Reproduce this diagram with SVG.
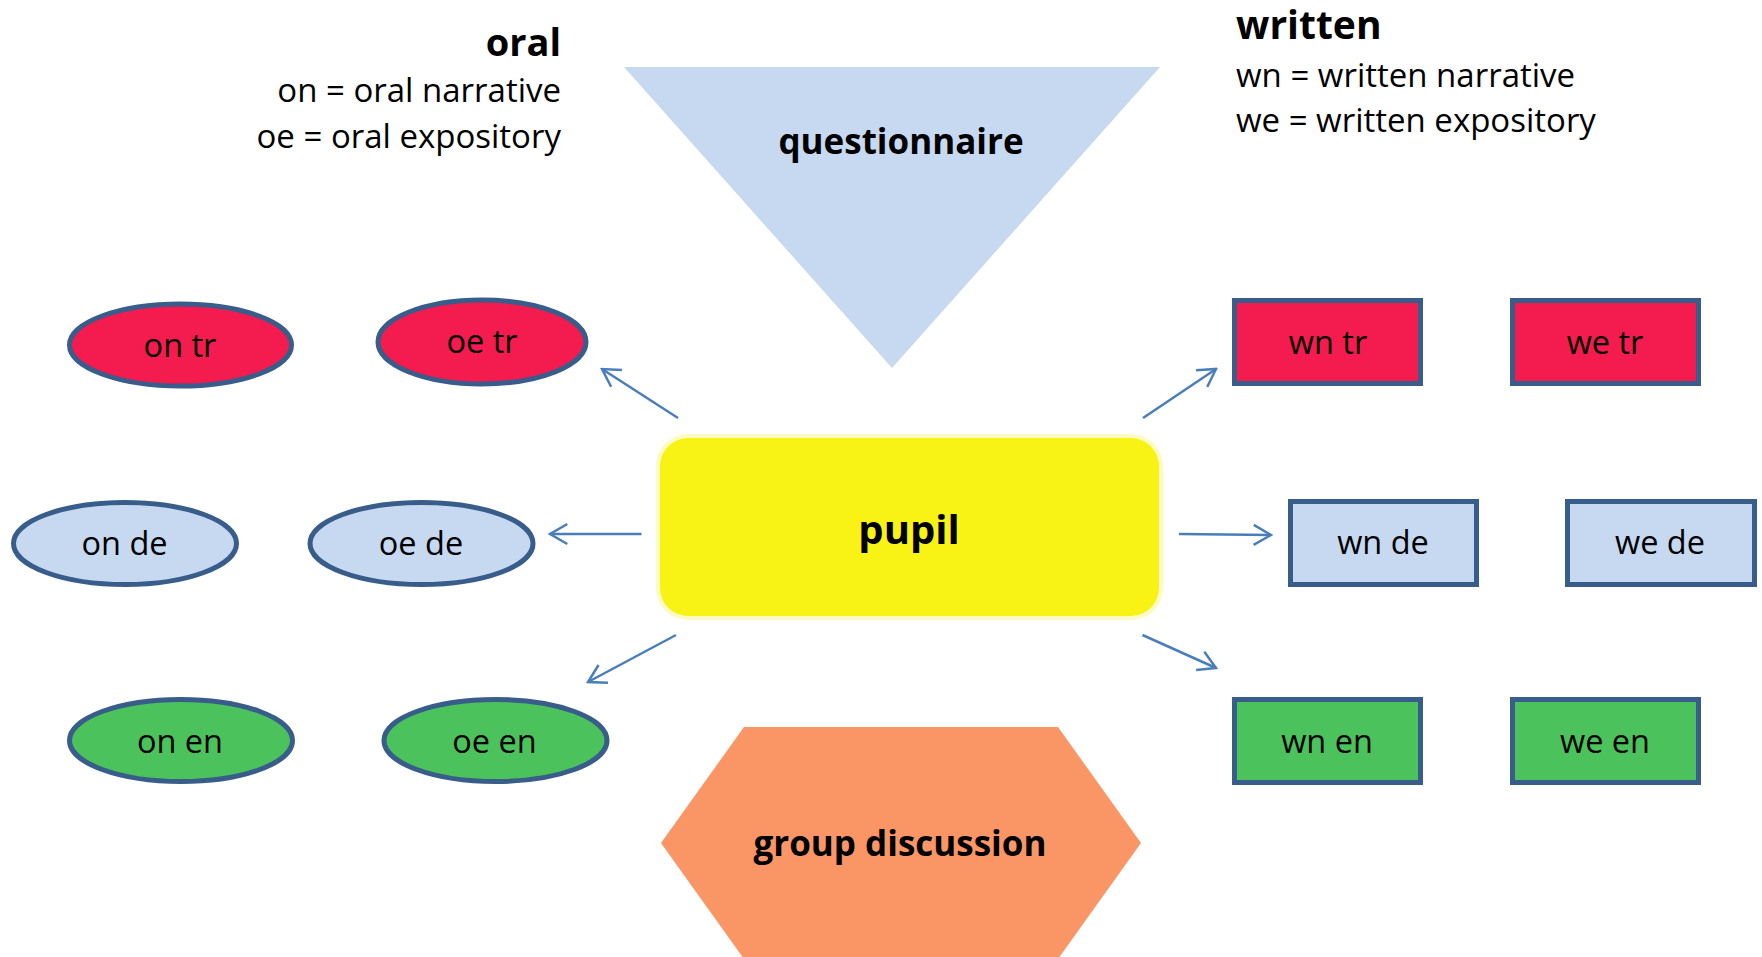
<svg xmlns="http://www.w3.org/2000/svg" width="1762" height="957" viewBox="0 0 1762 957">
<style>
  .t { font-family: "Open Sans", "Liberation Sans", sans-serif; fill: #000; }
  .lbl { font-size: 32.5px; text-anchor: middle; }
  .leg { font-size: 33px; }
  .b { font-weight: bold; }
  .ell { stroke: #385D8A; stroke-width: 5; }
  .box { stroke: #385D8A; stroke-width: 5; }
  .red { fill: #F41B4E; }
  .blue { fill: #C6D9F0; }
  .green { fill: #4BC25B; }
  .conn { stroke: #4A7EBB; stroke-width: 2.5; fill: none; marker-end: url(#arr); }
</style>
<defs>
  <marker id="arr" markerUnits="userSpaceOnUse" viewBox="-20 -12 22 24" refX="0" refY="0" markerWidth="22" markerHeight="24" orient="auto">
    <path d="M-17.3,-10 L0,0 L-17.3,10" fill="none" stroke="#4A7EBB" stroke-width="2.5"/>
  </marker>
</defs>
<rect width="1762" height="957" fill="#fff"/>

<g id="legend-oral">
  <text class="t b" x="561" y="56" font-size="38" text-anchor="end">oral</text>
  <text class="t leg" x="561" y="102" text-anchor="end">on = oral narrative</text>
  <text class="t leg" x="561" y="148" text-anchor="end">oe = oral expository</text>
</g>
<g id="legend-written">
  <text class="t b" x="1236" y="39" font-size="39">written</text>
  <text class="t leg" x="1236" y="87">wn = written narrative</text>
  <text class="t leg" x="1236" y="132">we = written expository</text>
</g>

<g id="questionnaire">
  <polygon points="624,67 1160,67 892,368" fill="#C6D9F0"/>
  <text class="t b" x="901" y="154" font-size="35" text-anchor="middle">questionnaire</text>
</g>

<g id="pupil">
  <rect x="656" y="434" width="507" height="186" rx="32" fill="#FDFBC4"/>
  <rect x="660" y="438" width="499" height="178" rx="28" fill="#F8F314"/>
  <text class="t b" x="909" y="544" font-size="40" text-anchor="middle">pupil</text>
</g>

<g id="group-discussion">
  <polygon points="744,727 1058,727 1141,843 1058,959 744,959 661,843" fill="#FA9566"/>
  <text class="t b" x="900" y="856" font-size="35" text-anchor="middle">group discussion</text>
</g>

<g id="on-tr"><ellipse class="ell red" cx="180.5" cy="345" rx="111" ry="41"/><text class="t lbl" x="180" y="357">on tr</text></g>
<g id="oe-tr"><ellipse class="ell red" cx="482" cy="342" rx="104" ry="42"/><text class="t lbl" x="482" y="353">oe tr</text></g>
<g id="on-de"><ellipse class="ell blue" cx="125" cy="543.5" rx="111.5" ry="41"/><text class="t lbl" x="124.5" y="555">on de</text></g>
<g id="oe-de"><ellipse class="ell blue" cx="421.5" cy="543.5" rx="111.5" ry="41"/><text class="t lbl" x="421" y="555">oe de</text></g>
<g id="on-en"><ellipse class="ell green" cx="181" cy="740.5" rx="111.5" ry="41"/><text class="t lbl" x="180" y="753">on en</text></g>
<g id="oe-en"><ellipse class="ell green" cx="495.5" cy="740.5" rx="111.5" ry="41"/><text class="t lbl" x="494.5" y="753">oe en</text></g>

<g id="wn-tr"><rect class="box red" x="1234.5" y="300.5" width="186" height="83"/><text class="t lbl" x="1328" y="354">wn tr</text></g>
<g id="we-tr"><rect class="box red" x="1512.5" y="300.5" width="186" height="83"/><text class="t lbl" x="1605" y="354">we tr</text></g>
<g id="wn-de"><rect class="box blue" x="1290.5" y="501.5" width="186" height="83"/><text class="t lbl" x="1383" y="554">wn de</text></g>
<g id="we-de"><rect class="box blue" x="1567.5" y="501.5" width="187" height="83"/><text class="t lbl" x="1660" y="554">we de</text></g>
<g id="wn-en"><rect class="box green" x="1234.5" y="699.5" width="186" height="83"/><text class="t lbl" x="1327" y="753">wn en</text></g>
<g id="we-en"><rect class="box green" x="1512.5" y="699.5" width="186" height="83"/><text class="t lbl" x="1605" y="753">we en</text></g>

<g id="connectors">
  <line class="conn" x1="678" y1="418" x2="602" y2="369"/>
  <line class="conn" x1="1143" y1="418" x2="1216" y2="369"/>
  <line class="conn" x1="641.5" y1="534" x2="550" y2="534"/>
  <line class="conn" x1="1179" y1="534" x2="1271" y2="535"/>
  <line class="conn" x1="676" y1="635" x2="588" y2="682"/>
  <line class="conn" x1="1142.5" y1="635" x2="1216" y2="668"/>
</g>
</svg>
